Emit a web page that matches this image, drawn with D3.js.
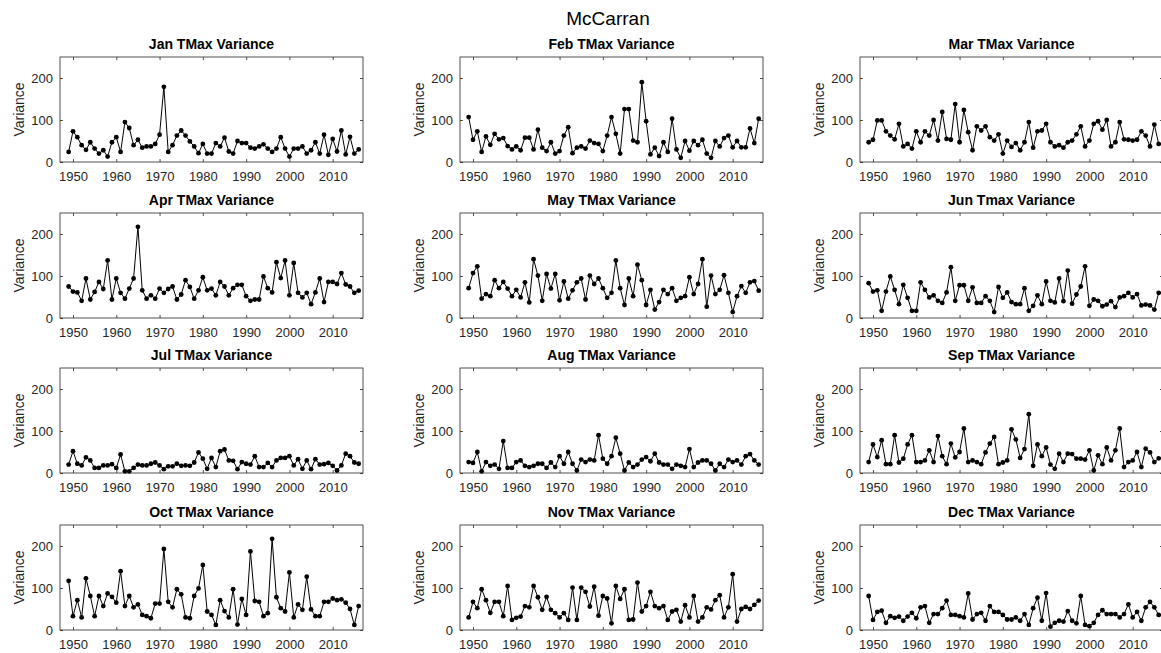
<!DOCTYPE html>
<html>
<head>
<meta charset="utf-8">
<script src="https://cdn.jsdelivr.net/npm/d3@7"></script>
<style>
  body { margin: 0; background: #fff; }
  text { font-family: "Liberation Sans", Arial, Helvetica, sans-serif; }
</style>
</head>
<body>
<svg width="1161" height="653"></svg>
<script>
const years = d3.range(1949, 2017)
const xTicks = [1950, 1960, 1970, 1980, 1990, 2000, 2010]
const yTicks = [0, 100, 200]

const titles = ['Jan TMax Variance', 'Feb TMax Variance', 'Mar TMax Variance',
  'Apr TMax Variance', 'May TMax Variance', 'Jun Tmax Variance',
  'Jul TMax Variance', 'Aug TMax Variance', 'Sep TMax Variance',
  'Oct TMax Variance', 'Nov TMax Variance', 'Dec TMax Variance']

const jan = [24, 73, 59, 40, 29, 47, 32, 20, 28, 13, 47, 59, 24, 95, 81, 40, 53, 34, 37, 37,
  43, 65, 179, 24, 40, 63, 75, 63, 49, 37, 21, 43, 20, 20, 45, 37, 58, 25, 20, 50,
  45, 45, 34, 32, 37, 42, 32, 24, 32, 59, 32, 13, 32, 32, 37, 20, 28, 47, 20, 65,
  17, 55, 25, 75, 18, 60, 20, 30]
const feb = [107, 53, 73, 24, 61, 41, 67, 54, 57, 38, 30, 37, 28, 58, 58, 30, 77, 34, 26, 47,
  20, 26, 63, 83, 21, 34, 37, 32, 51, 45, 43, 26, 63, 107, 67, 20, 126, 126, 51, 47,
  190, 97, 18, 34, 14, 47, 24, 103, 30, 10, 50, 27, 50, 40, 53, 20, 10, 50, 37, 57,
  63, 35, 50, 35, 35, 80, 45, 103]
const mar = [47, 53, 99, 99, 73, 63, 54, 91, 37, 43, 32, 73, 47, 73, 63, 100, 51, 119, 55, 53,
  138, 47, 124, 71, 28, 85, 75, 85, 59, 51, 66, 20, 51, 36, 45, 28, 47, 95, 34, 73,
  75, 91, 47, 37, 40, 34, 47, 51, 66, 85, 37, 51, 91, 97, 77, 100, 37, 47, 95, 54,
  53, 51, 53, 73, 63, 37, 89, 43]
const apr = [75, 63, 61, 41, 94, 44, 62, 86, 69, 137, 44, 94, 60, 46, 70, 94, 217, 66, 46, 54,
  46, 70, 60, 69, 75, 44, 56, 90, 74, 46, 66, 97, 66, 70, 54, 86, 75, 54, 71, 79,
  79, 52, 41, 44, 44, 99, 71, 61, 133, 95, 137, 54, 131, 60, 49, 60, 33, 61, 94, 38,
  86, 86, 81, 107, 80, 75, 60, 65]
const may = [71, 107, 123, 46, 57, 52, 90, 71, 86, 70, 52, 67, 49, 85, 37, 140, 101, 41, 105, 70,
  105, 42, 87, 46, 66, 85, 94, 44, 101, 81, 94, 71, 48, 60, 137, 71, 31, 94, 52, 127,
  90, 31, 67, 20, 38, 67, 57, 71, 41, 48, 52, 97, 57, 81, 140, 27, 101, 57, 67, 102,
  60, 14, 52, 76, 60, 85, 88, 65]
const jun = [83, 63, 66, 17, 63, 99, 67, 33, 79, 48, 17, 17, 85, 67, 49, 54, 41, 36, 61, 121,
  41, 78, 78, 41, 73, 36, 36, 52, 41, 14, 74, 48, 61, 38, 33, 33, 71, 17, 29, 54,
  33, 87, 41, 37, 94, 40, 113, 34, 56, 75, 123, 29, 44, 41, 28, 32, 40, 26, 49, 52,
  60, 49, 57, 30, 32, 30, 20, 60]
const jul = [20, 52, 22, 18, 37, 30, 12, 12, 18, 18, 21, 12, 44, 4, 4, 12, 20, 18, 18, 22,
  25, 18, 9, 16, 16, 22, 17, 18, 17, 25, 49, 34, 10, 36, 14, 52, 56, 30, 29, 9,
  26, 22, 20, 40, 14, 14, 24, 14, 30, 36, 36, 40, 18, 33, 10, 30, 9, 33, 20, 21,
  24, 17, 6, 18, 46, 40, 25, 22]
const aug = [26, 24, 50, 4, 26, 17, 20, 10, 76, 12, 12, 26, 30, 17, 14, 17, 22, 22, 12, 25,
  14, 40, 22, 50, 22, 6, 32, 26, 32, 30, 90, 34, 22, 40, 84, 46, 6, 25, 14, 20,
  32, 38, 28, 46, 25, 20, 20, 10, 20, 17, 14, 57, 14, 25, 30, 30, 22, 6, 22, 14,
  32, 26, 30, 20, 40, 45, 30, 20]
const sep = [26, 68, 38, 78, 21, 21, 90, 25, 34, 68, 90, 26, 26, 30, 54, 26, 88, 40, 21, 70,
  37, 50, 106, 26, 30, 26, 21, 49, 70, 86, 21, 25, 30, 104, 80, 36, 57, 140, 17, 68,
  40, 61, 20, 10, 46, 26, 46, 45, 34, 34, 32, 54, 6, 42, 21, 61, 30, 54, 106, 14,
  26, 30, 50, 14, 58, 49, 26, 35]
const oct = [117, 33, 71, 30, 123, 81, 33, 81, 57, 87, 79, 65, 140, 57, 81, 54, 61, 36, 33, 28,
  63, 63, 193, 67, 54, 97, 85, 30, 28, 81, 99, 155, 44, 36, 12, 71, 45, 30, 97, 13,
  74, 36, 187, 69, 67, 33, 40, 217, 78, 52, 44, 137, 30, 61, 48, 127, 49, 33, 33, 67,
  67, 75, 71, 73, 65, 50, 12, 57]
const nov = [30, 67, 52, 97, 71, 41, 67, 67, 33, 105, 24, 29, 32, 57, 54, 105, 78, 48, 79, 48,
  40, 30, 40, 24, 101, 24, 101, 91, 56, 103, 34, 81, 75, 16, 105, 74, 97, 24, 25, 113,
  44, 57, 91, 57, 52, 57, 24, 44, 48, 20, 59, 30, 81, 20, 30, 54, 49, 71, 83, 30,
  54, 133, 20, 50, 55, 50, 60, 70]
const dec = [81, 24, 43, 46, 17, 33, 29, 32, 22, 32, 41, 28, 54, 57, 17, 38, 38, 52, 70, 36,
  36, 33, 30, 87, 25, 38, 41, 22, 57, 43, 43, 36, 25, 25, 30, 22, 38, 12, 52, 77,
  22, 88, 8, 17, 22, 20, 45, 22, 16, 81, 12, 9, 17, 36, 47, 38, 38, 38, 30, 38,
  61, 30, 43, 22, 54, 67, 54, 36]

const series = [jan, feb, mar, apr, may, jun, jul, aug, sep, oct, nov, dec]

const colLeft = [60, 460, 860]
const rowTop = [57, 213, 368, 525]
const plotW = 303
const plotH = 105
const axisColor = '#262626'

const svg = d3.select('svg')

svg.append('text')
  .attr('x', 608)
  .attr('y', 25)
  .attr('text-anchor', 'middle')
  .attr('font-size', 19)
  .attr('fill', '#000')
  .text('McCarran')

const x = d3.scaleLinear().domain([1947, 2017]).range([0, plotW])
const y = d3.scaleLinear().domain([0, 250]).range([plotH, 0])

const line = d3.line()
  .x((d, i) => x(years[i]))
  .y(d => y(d))

series.forEach((values, k) => {
  const g = svg.append('g')
    .attr('transform', 'translate(' + colLeft[k % 3] + ',' + rowTop[Math.floor(k / 3)] + ')')

  g.append('g')
    .attr('transform', 'translate(0,' + plotH + ')')
    .call(d3.axisBottom(x).tickValues(xTicks).tickFormat(d3.format('d')).tickSizeInner(-3).tickSizeOuter(0).tickPadding(10))
  g.append('g')
    .call(d3.axisTop(x).tickValues(xTicks).tickFormat('').tickSizeInner(-3).tickSizeOuter(0))
  g.append('g')
    .call(d3.axisLeft(y).tickValues(yTicks).tickSizeInner(-3).tickSizeOuter(0).tickPadding(7))
  g.append('g')
    .attr('transform', 'translate(' + plotW + ',0)')
    .call(d3.axisRight(y).tickValues(yTicks).tickFormat('').tickSizeInner(-3).tickSizeOuter(0))

  g.selectAll('.domain').remove()
  g.selectAll('.tick line').attr('stroke', axisColor).attr('stroke-width', 0.8)
  g.selectAll('.tick text').attr('fill', axisColor).attr('font-size', 13)
    .style('font-family', '"Liberation Sans", Arial, sans-serif')

  g.append('rect')
    .attr('width', plotW)
    .attr('height', plotH)
    .attr('fill', 'none')
    .attr('stroke', axisColor)
    .attr('stroke-width', 0.8)

  g.append('path')
    .datum(values)
    .attr('d', line)
    .attr('fill', 'none')
    .attr('stroke', '#000')
    .attr('stroke-width', 1)

  g.selectAll('circle')
    .data(values)
    .join('circle')
    .attr('cx', (d, i) => x(years[i]))
    .attr('cy', d => y(d))
    .attr('r', 2.4)
    .attr('fill', '#000')

  g.append('text')
    .attr('x', plotW / 2)
    .attr('y', -8)
    .attr('text-anchor', 'middle')
    .attr('font-size', 14)
    .attr('font-weight', 'bold')
    .attr('fill', '#000')
    .text(titles[k])

  g.append('text')
    .attr('transform', 'translate(-36,' + plotH / 2 + ') rotate(-90)')
    .attr('text-anchor', 'middle')
    .attr('font-size', 14)
    .attr('fill', axisColor)
    .text('Variance')
})
</script>
</body>
</html>
